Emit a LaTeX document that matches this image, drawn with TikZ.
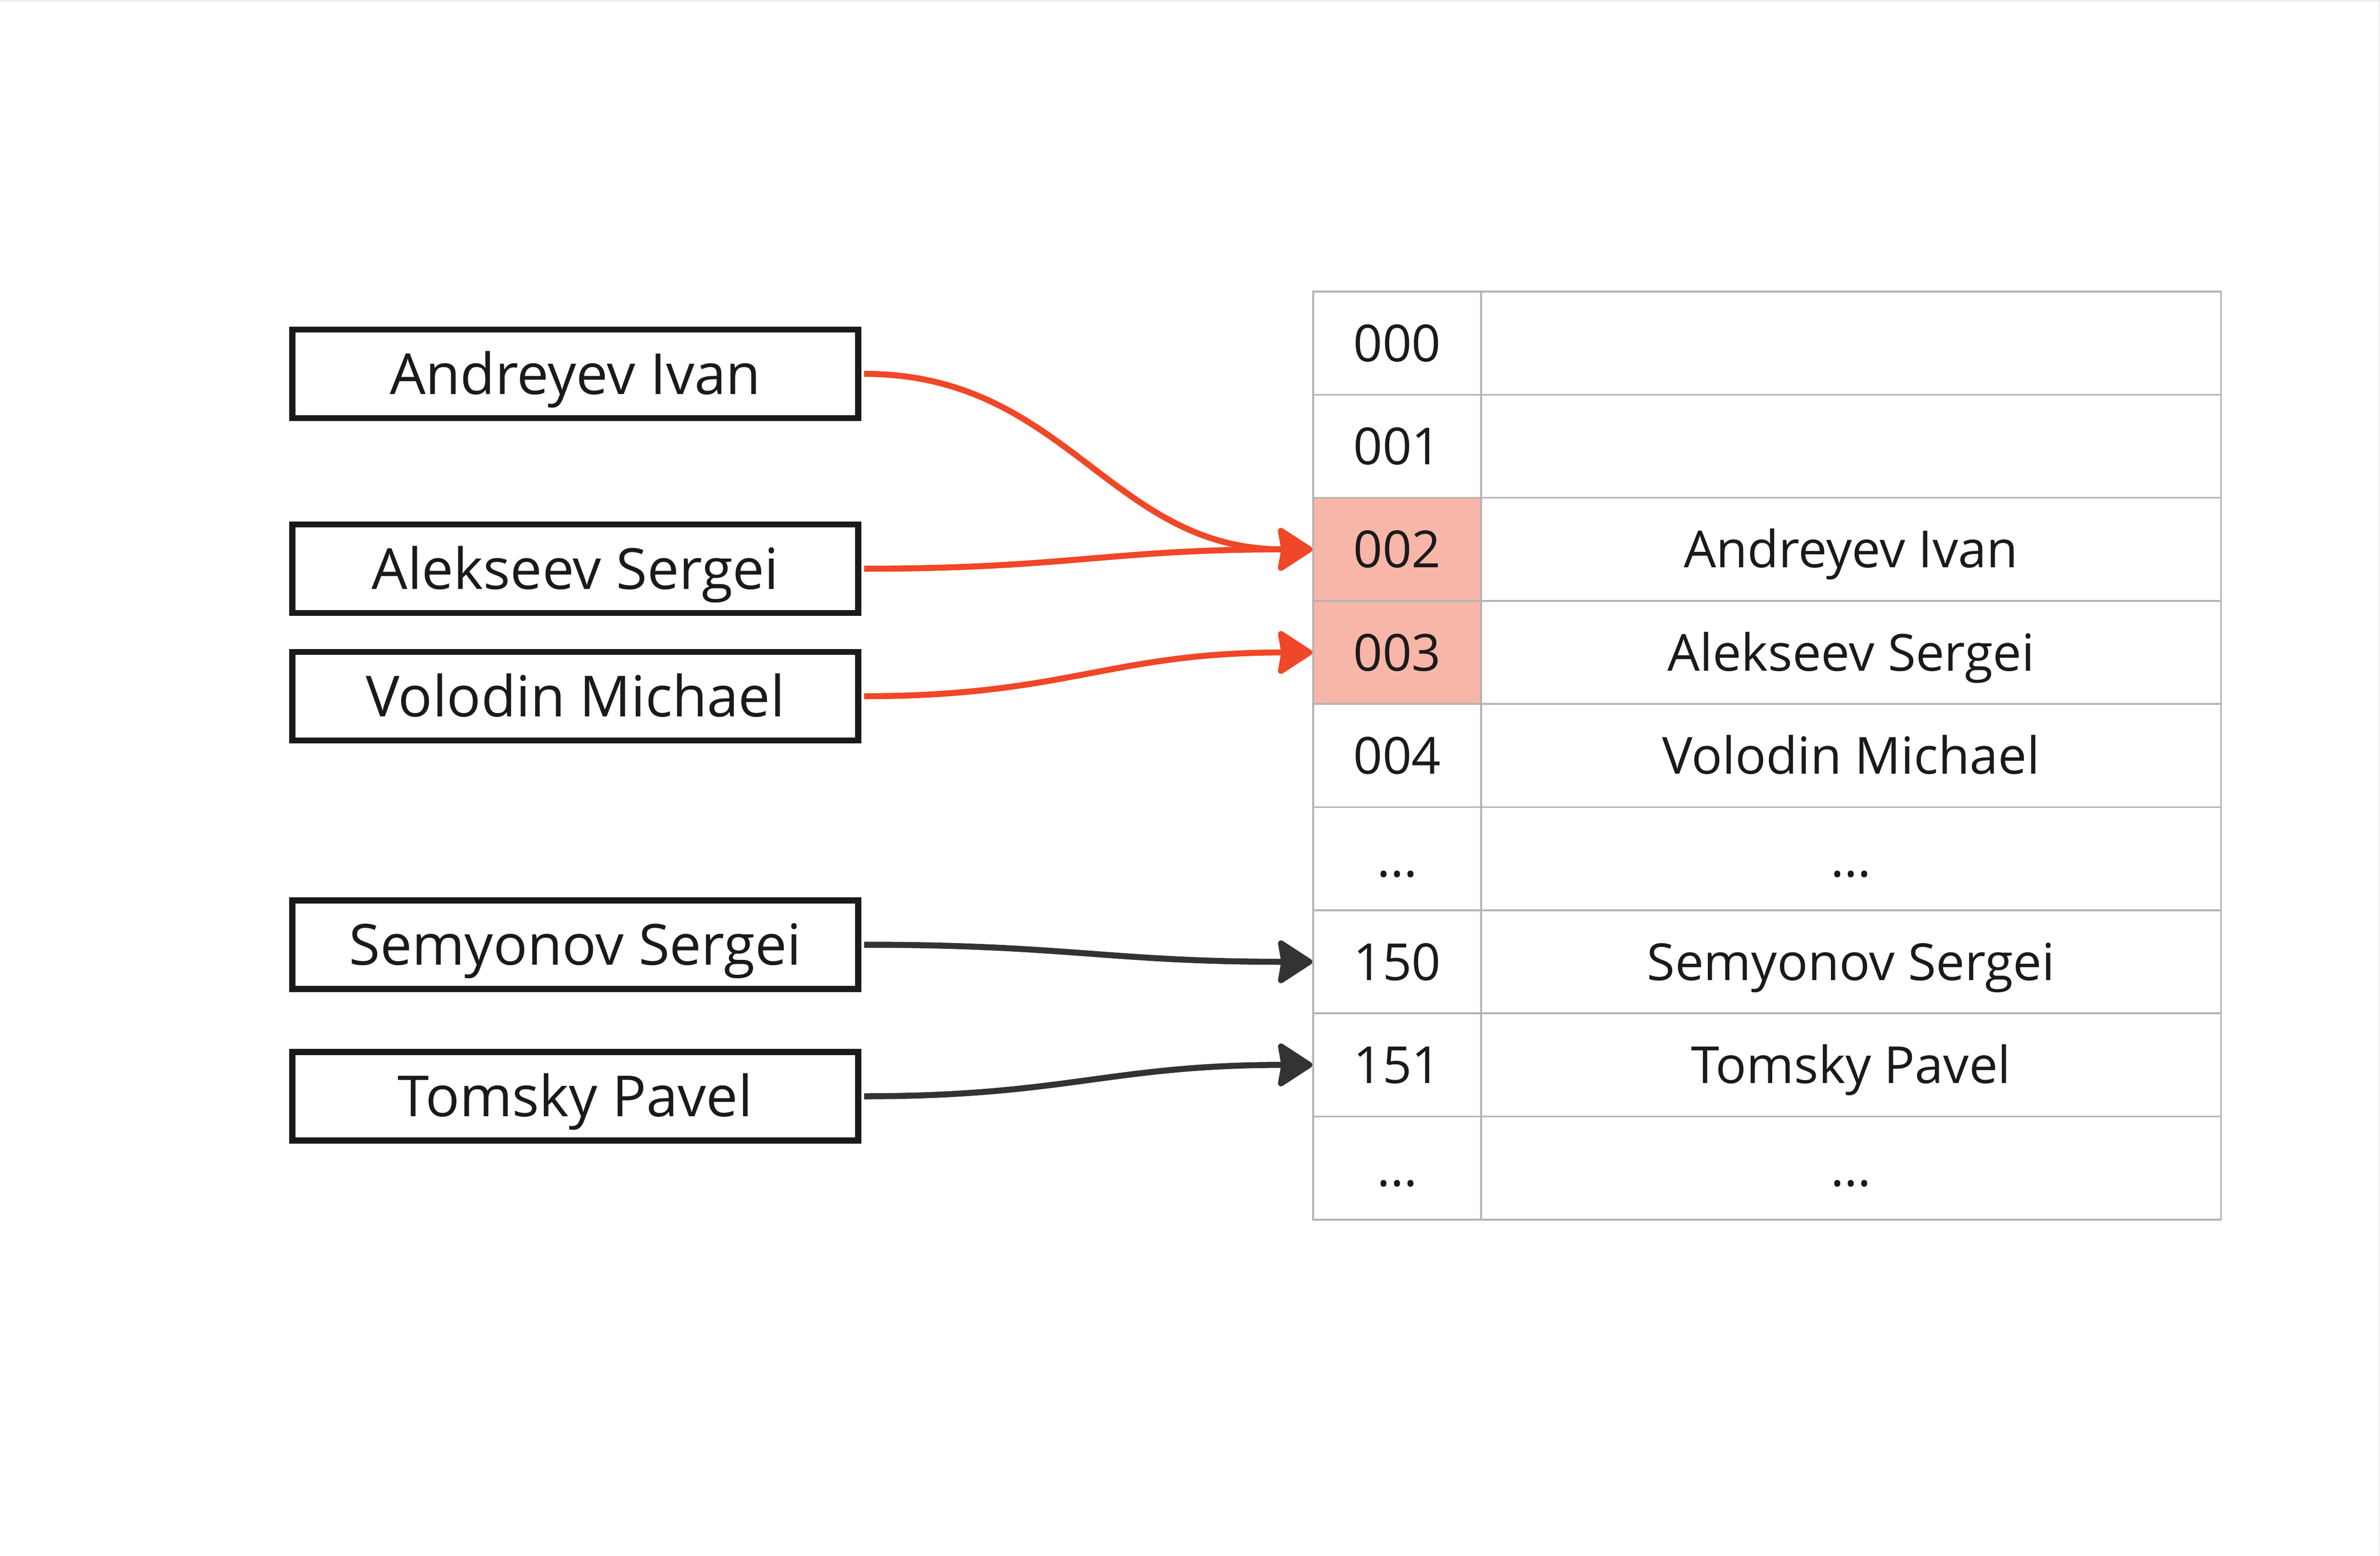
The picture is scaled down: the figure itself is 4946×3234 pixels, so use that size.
\documentclass[tikz,border=0pt]{standalone}
\usepackage{fontspec}
\setmainfont{Open Sans}
\usetikzlibrary{arrows.meta}
\definecolor{arrred}{HTML}{EF4727}
\definecolor{arrdark}{HTML}{333333}
\definecolor{gridgray}{HTML}{B3B3B3}
\definecolor{hlfill}{HTML}{F8B6A8}
\definecolor{ink}{HTML}{1A1A1A}
\definecolor{edgegray}{HTML}{EFEFEF}
\begin{document}
\begin{tikzpicture}[x=0.01cm,y=-0.01cm,
  namebox/.style={draw=ink, line width=0.126cm, minimum width=11.75cm, minimum height=1.84cm,
    inner sep=0pt, text height=0.842cm, text depth=0pt, font=\fontsize{33.5}{40}\selectfont, text=ink},
  cell/.style={draw=gridgray, line width=0.035cm, minimum height=2.143cm, inner sep=0pt,
    text height=0.762cm, text depth=0pt, font=\fontsize{30.2}{37}\selectfont, text=ink},
  keycell/.style={cell, minimum width=3.49cm},
  valcell/.style={cell, minimum width=15.37cm},
  hl/.style={fill=hlfill},
  link/.style={line width=0.125cm, -{Stealth[length=0.78cm,width=1.0cm,inset=0.08cm,round]}},
  redlink/.style={link, draw=arrred},
  darklink/.style={link, draw=arrdark}
]
\useasboundingbox (0,0) rectangle (4946,3234);
\fill[white] (0,0) rectangle (4946,3234);
\fill[edgegray] (0,0) rectangle (4946,3);
\fill[edgegray] (4943,0) rectangle (4946,3234);

% left name boxes
\node[namebox] (n1) at (1195.5,777) {Andreyev Ivan};
\node[namebox] (n2) at (1195.5,1182) {Alekseev Sergei};
\node[namebox] (n3) at (1195.5,1447) {Volodin Michael};
\node[namebox] (n4) at (1195.5,1963.5) {Semyonov Sergei};
\node[namebox] (n5) at (1195.5,2278.5) {Tomsky Pavel};

% table
\node[keycell] (k0) at (2903.5,713.2) {000};
\node[valcell] (v0) at (3846.5,713.2) {};
\node[keycell] (k1) at (2903.5,927.5) {001};
\node[valcell] (v1) at (3846.5,927.5) {};
\node[keycell,hl] (k2) at (2903.5,1141.8) {002};
\node[valcell] (v2) at (3846.5,1141.8) {Andreyev Ivan};
\node[keycell,hl] (k3) at (2903.5,1356.1) {003};
\node[valcell] (v3) at (3846.5,1356.1) {Alekseev Sergei};
\node[keycell] (k4) at (2903.5,1570.4) {004};
\node[valcell] (v4) at (3846.5,1570.4) {Volodin Michael};
\node[keycell] (k5) at (2903.5,1784.7) {...};
\node[valcell] (v5) at (3846.5,1784.7) {...};
\node[keycell] (k6) at (2903.5,1999.0) {150};
\node[valcell] (v6) at (3846.5,1999.0) {Semyonov Sergei};
\node[keycell] (k7) at (2903.5,2213.3) {151};
\node[valcell] (v7) at (3846.5,2213.3) {Tomsky Pavel};
\node[keycell] (k8) at (2903.5,2427.6) {...};
\node[valcell] (v8) at (3846.5,2427.6) {...};

% connectors
\draw[redlink] ([xshift=0.06cm]n1.east) .. controls +(420,0) and +(-420,0) .. (k2.west);
\draw[redlink] ([xshift=0.06cm]n2.east) .. controls +(420,0) and +(-420,0) .. (k2.west);
\draw[redlink] ([xshift=0.06cm]n3.east) .. controls +(420,0) and +(-420,0) .. (k3.west);
\draw[darklink] ([xshift=0.06cm]n4.east) .. controls +(420,0) and +(-420,0) .. (k6.west);
\draw[darklink] ([xshift=0.06cm]n5.east) .. controls +(420,0) and +(-420,0) .. (k7.west);
\end{tikzpicture}
\end{document}
